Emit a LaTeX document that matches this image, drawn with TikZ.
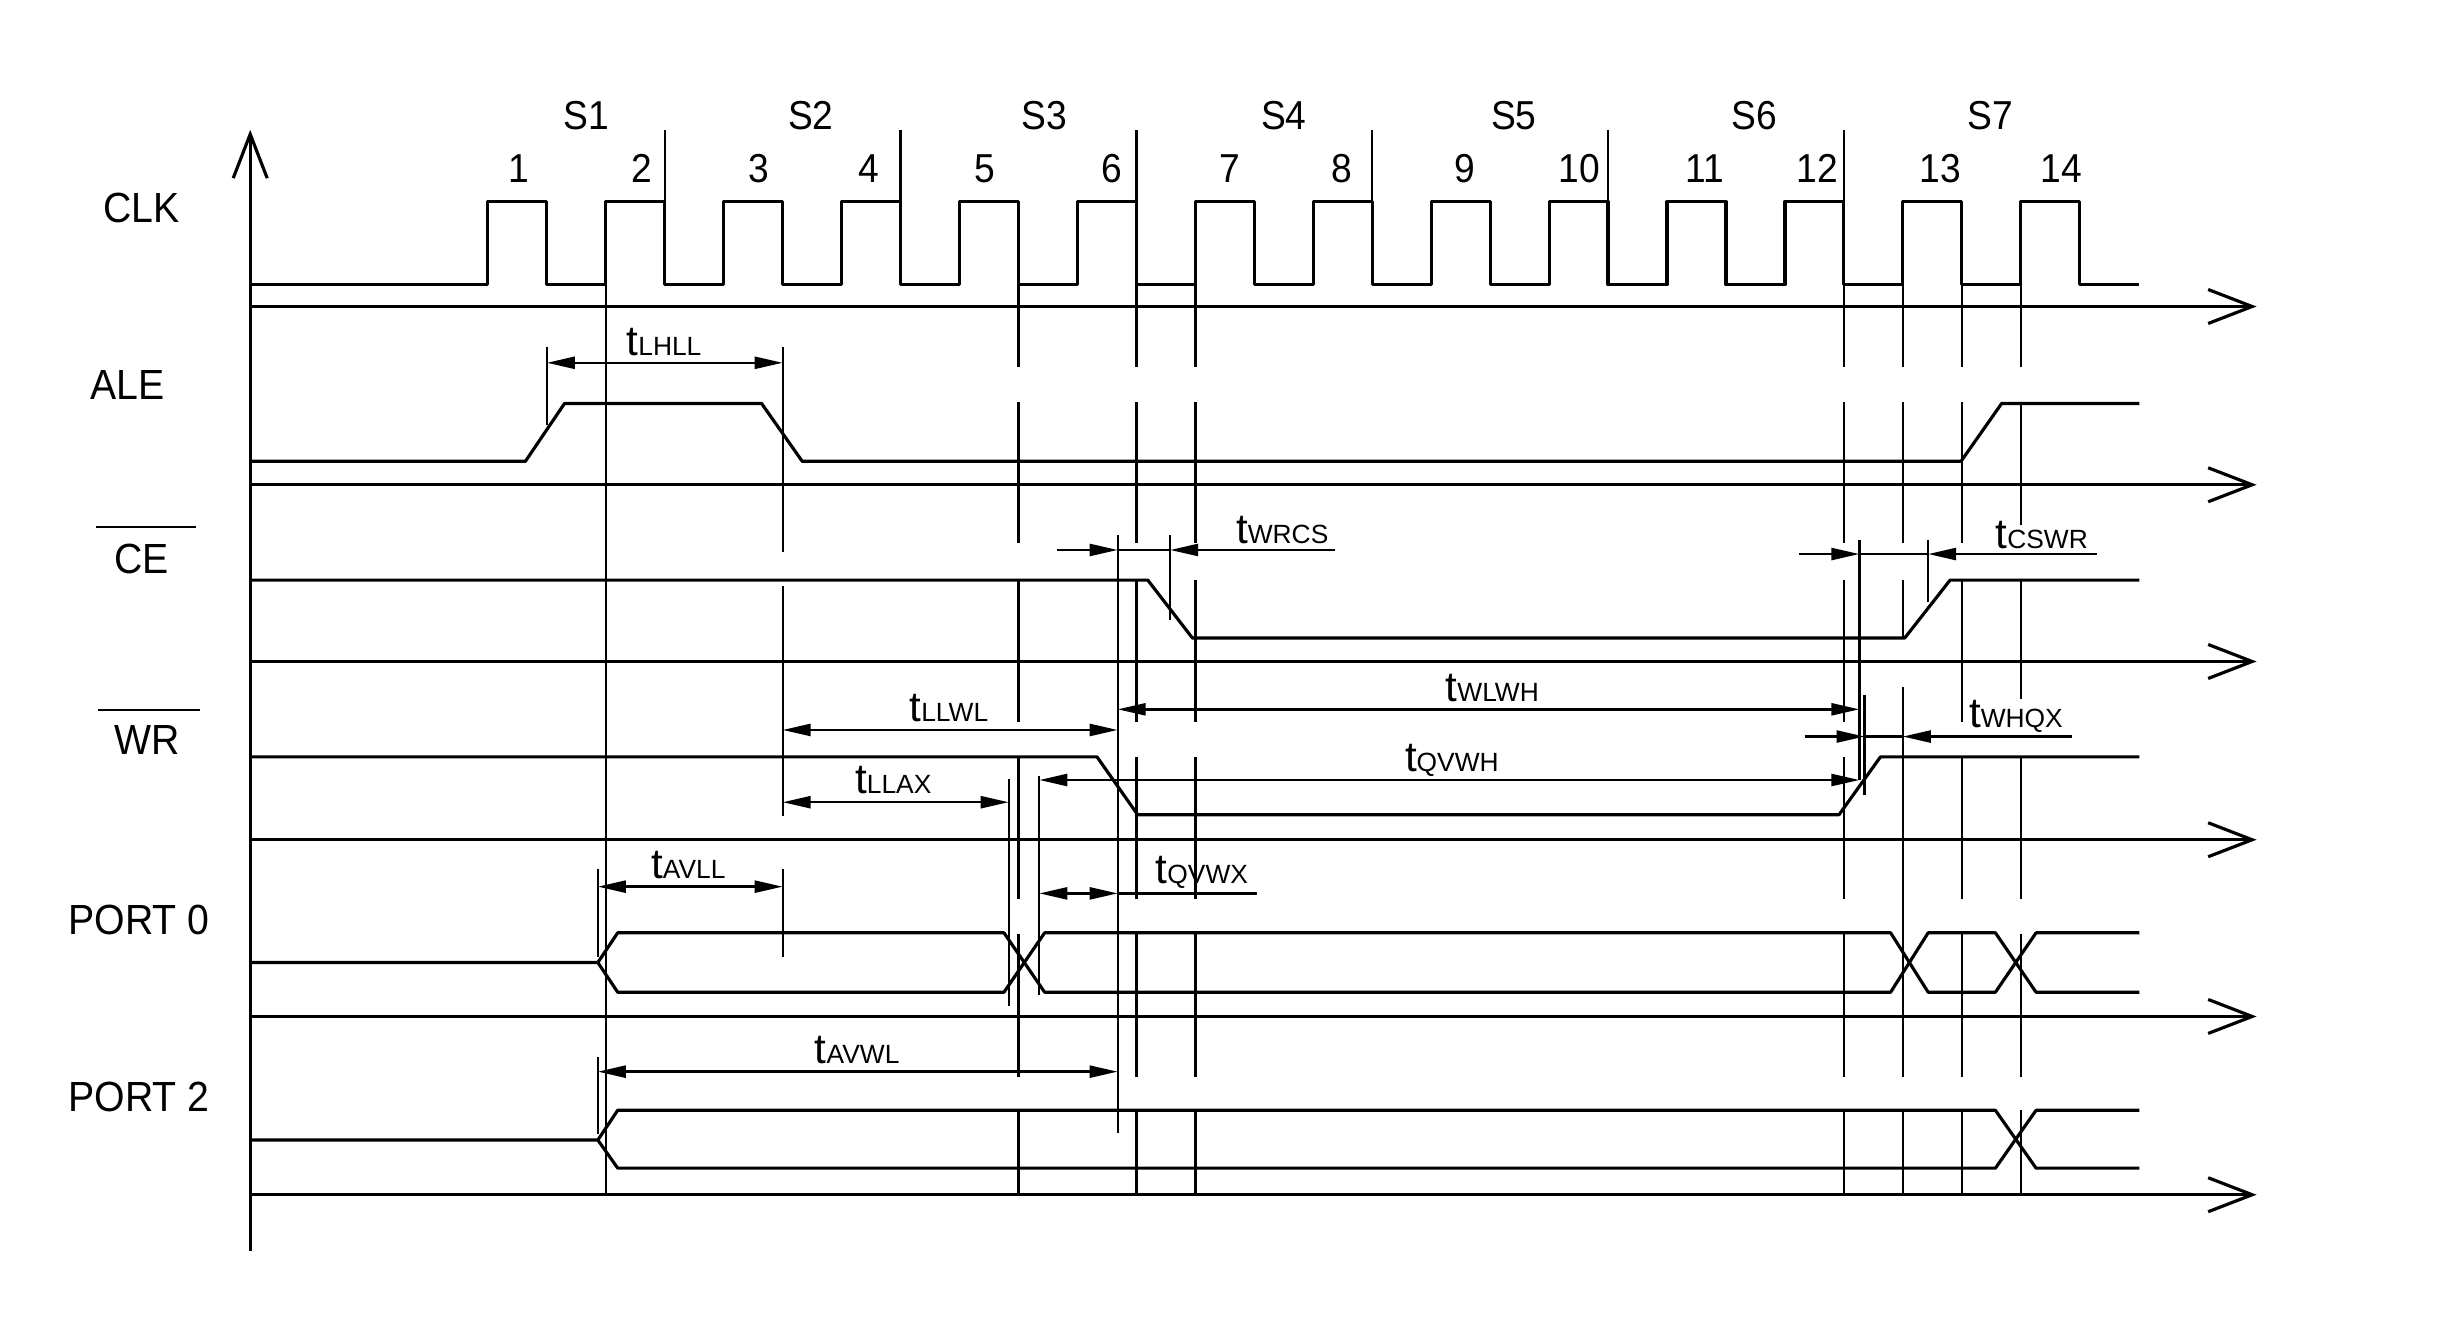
\documentclass[tikz,border=0pt]{standalone}
\usepackage{fontspec}
\setmainfont{Liberation Sans}
\usetikzlibrary{arrows.meta}
% t with small capitals index, as in the data sheet
\newcommand\tlab[1]{t{\fontsize{7.5}{8}\selectfont #1}}
% reference line over all rows, open just above each signal
\newcommand\gridline[2]{\draw[grid] (#1,#2) -- (#1,234.5) (#1,257) -- (#1,347) (#1,371) -- (#1,461.5) (#1,484) -- (#1,575) (#1,597) -- (#1,688.5) (#1,710) -- (#1,763);}
\begin{document}
\begin{tikzpicture}[x=0.015638cm,y=-0.015638cm,
    sig/.style={line width=0.9pt,line join=round},
    axis/.style={line width=0.9pt,-{Straight Barb[length=4.4mm,width=3.4mm]}},
    grid/.style={line width=0.65pt},
    dimline/.style={line width=0.7pt},
    dimarr/.style={dimline,{Triangle[length=2.8mm,width=1.2mm]}-{Triangle[length=2.8mm,width=1.2mm]}},
    onearr/.style={dimline,-{Triangle[length=2.8mm,width=1.2mm]}},
    sname/.style={font=\fontsize{12}{14}\selectfont,xscale=0.93},
    tick/.style={font=\fontsize{11.5}{13}\selectfont,xscale=0.92},
    tname/.style={font=\fontsize{12}{14}\selectfont,anchor=base west,inner sep=0pt}]
    \useasboundingbox (0,0) rectangle (1568,844);
    % axes
    \draw[axis] (160,800) -- (160,83);
    \foreach \y in {196,310,423,537,650,764}
        \draw[axis] (160,\y) -- (1443,\y);
    % signal names
    \node[sname] (clk) at (90.6,133) {CLK};
    \node[sname] (ale) at (81.3,246) {ALE};
    \node[sname] (ce) at (90.6,357.2) {CE};
    \node[sname] (wr) at (94.3,473.5) {WR};
    \node[sname] (pzero) at (89,588.4) {PORT 0};
    \node[sname] (ptwo) at (89,701.8) {PORT 2};
    \draw[grid] (61.4,336.8) -- (125.3,336.8);
    \draw[grid] (62.9,453.9) -- (127.9,453.9);
    % states and clock numbers
    \foreach \s/\x in {1/375,2/518.5,3/668,4/821,5/968,6/1122,7/1273}
        \node[tick] (s\s) at (\x,74) {S\s};
    \foreach \n/\x in {1/331.6,2/410.5,3/485.5,4/555.6,5/630,6/711,7/786.6,8/858,9/936.4,10/1009.8,11/1090.4,12/1162.2,13/1240.8,14/1318}
        \node[tick] (c\n) at (\x,108) {\n};
    % clock
    \draw[sig] (160,182) foreach \i in {0,...,13} {
        -- ({312+75.4*\i},182) -- ++(0,-53) -- ++(37.7,0) -- ++(0,53) } -- (1368,182);
    \foreach \x in {425.1,575.9,877.5,1028.3}
        \draw[grid] (\x,83) -- (\x,129);
    % reference lines
    \draw[grid] (387.4,129) -- (387.4,763);
    \gridline{651.3}{129}
    \gridline{726.7}{83}
    \gridline{764.4}{129}
    \gridline{1179.1}{83}
    \gridline{1254.5}{129}
    \draw[grid] (1216.8,129) -- (1216.8,234.5) (1216.8,257) -- (1216.8,347)
        (1216.8,371) -- (1216.8,408) (1216.8,439) -- (1216.8,688.5) (1216.8,710) -- (1216.8,763);
    \draw[grid] (1292.2,129) -- (1292.2,234.5) (1292.2,257) -- (1292.2,336)
        (1292.2,371) -- (1292.2,447) (1292.2,484) -- (1292.2,575) (1292.2,597) -- (1292.2,688.5) (1292.2,710) -- (1292.2,763);
    % short extension lines
    \draw[grid] (349.7,222) -- (349.7,272);
    \draw[grid] (382.3,556) -- (382.3,612) (382.3,676) -- (382.3,725);
    \draw[grid] (500.5,222) -- (500.5,353) (500.5,375) -- (500.5,522) (500.5,556) -- (500.5,612);
    \draw[grid] (645,498) -- (645,643);
    \draw[grid] (664.6,496) -- (664.6,636);
    \draw[grid] (714.7,342) -- (714.7,724.5);
    \draw[grid] (748.3,342) -- (748.3,396.5);
    \draw[grid] (1189,345) -- (1189,499);
    \draw[grid] (1192.3,444.5) -- (1192.3,508.5);
    \draw[grid] (1233,345) -- (1233,385);
    % signals
    \draw[sig] (160,295) -- (336,295) -- (361,258) -- (487,258) -- (513,295) -- (1254,295) -- (1280,258) -- (1368,258);
    \draw[sig] (160,371) -- (734,371) -- (762.5,408) -- (1218,408) -- (1247,371) -- (1368,371);
    \draw[sig] (160,484) -- (701.5,484) -- (727.5,521) -- (1176,521) -- (1202.5,484) -- (1368,484);
    \draw[sig] (160,615.5) -- (382.3,615.5) -- (395,596.5) -- (642,596.5) -- (668,634.5) -- (1209,634.5)
        -- (1233,596.5) -- (1276,596.5) -- (1302,634.5) -- (1368,634.5);
    \draw[sig] (382.3,615.5) -- (395,634.5) -- (642,634.5) -- (668,596.5) -- (1209,596.5)
        -- (1233,634.5) -- (1276,634.5) -- (1302,596.5) -- (1368,596.5);
    \draw[sig] (160,729) -- (382.3,729) -- (395,710) -- (1276,710) -- (1302,747) -- (1368,747);
    \draw[sig] (382.3,729) -- (395,747) -- (1276,747) -- (1302,710) -- (1368,710);
    % timing dimensions
    \draw[dimarr] (349.7,232) -- (500.5,232);
    \draw[dimarr] (500.5,466.8) -- (714.7,466.8);
    \draw[dimarr] (714.7,453.6) -- (1189,453.6);
    \draw[dimarr] (664.6,498.8) -- (1189,498.8);
    \draw[dimarr] (500.5,513) -- (645,513);
    \draw[dimarr] (382.3,567) -- (500.5,567);
    \draw[dimarr] (382.3,685.3) -- (714.7,685.3);
    \draw[dimarr] (664.6,571.3) -- (714.7,571.3);
    \draw[dimline] (714.7,571.3) -- (804,571.3);
    \draw[onearr] (676,351.7) -- (714.7,351.7);
    \draw[dimline] (714.7,351.7) -- (748.3,351.7);
    \draw[onearr] (854,351.7) -- (748.3,351.7);
    \draw[onearr] (1150.7,354.3) -- (1189,354.3);
    \draw[dimline] (1189,354.3) -- (1233,354.3);
    \draw[onearr] (1340.8,354.3) -- (1233,354.3);
    \draw[onearr] (1154,471) -- (1192.3,471);
    \draw[dimline] (1192.3,471) -- (1216.8,471);
    \draw[onearr] (1325,471) -- (1216.8,471);
    % timing names
    \node[tname] (lhll) at (400.3,227.6) {\tlab{LHLL}};
    \node[tname] (wrcs) at (790,347.5) {\tlab{WRCS}};
    \node[tname] (cswr) at (1275.7,350.6) {\tlab{CSWR}};
    \node[tname] (wlwh) at (924,448.7) {\tlab{WLWH}};
    \node[tname] (whqx) at (1258.7,465.1) {\tlab{WHQX}};
    \node[tname] (llwl) at (581.2,461.5) {\tlab{LLWL}};
    \node[tname] (qvwh) at (898,493.5) {\tlab{QVWH}};
    \node[tname] (llax) at (546.4,507.3) {\tlab{LLAX}};
    \node[tname] (avll) at (416,561.7) {\tlab{AVLL}};
    \node[tname] (qvwx) at (738.6,564.9) {\tlab{QVWX}};
    \node[tname] (avwl) at (520.7,680) {\tlab{AVWL}};
\end{tikzpicture}
\end{document}
